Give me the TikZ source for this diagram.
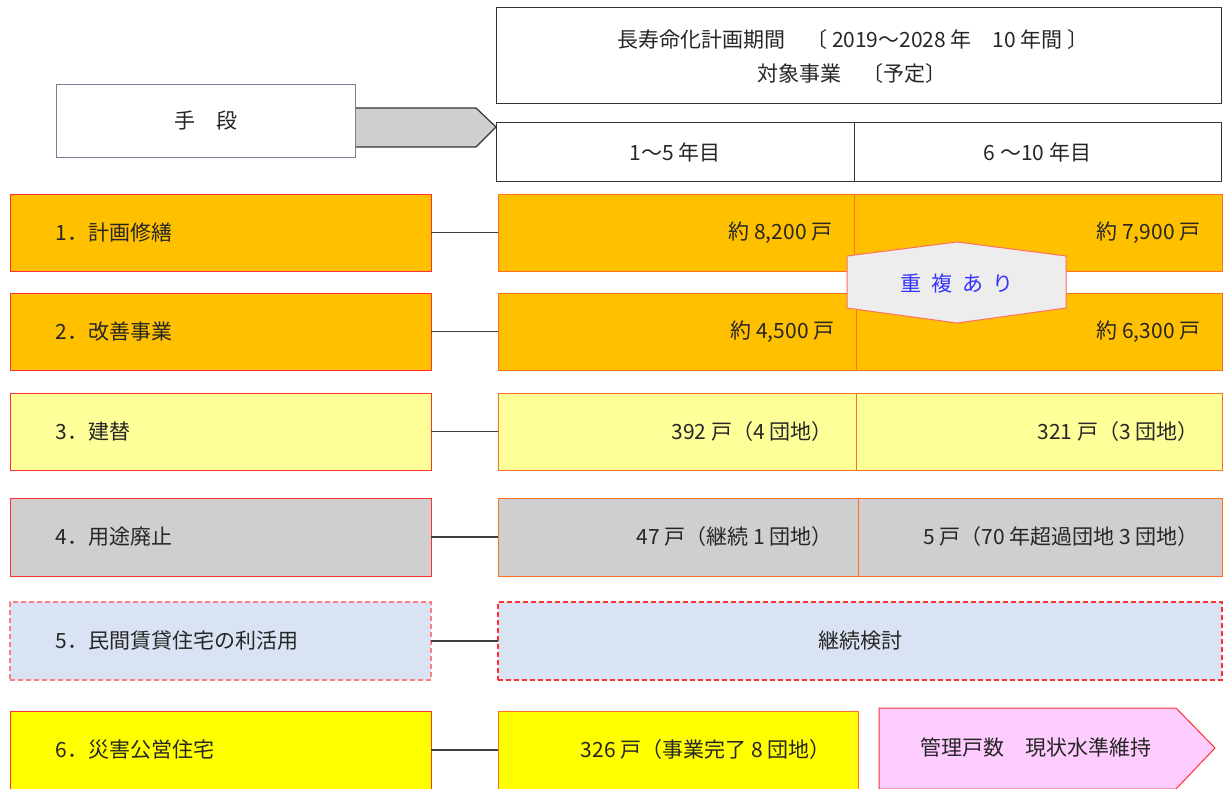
\documentclass[tikz,border=0pt]{standalone}
\usepackage{fontspec}
\setmainfont{Noto Sans CJK JP}
\definecolor{txt}{HTML}{262626}
\definecolor{gold}{HTML}{FFC000}
\definecolor{lyellow}{HTML}{FFFF99}
\definecolor{lgrey}{HTML}{D0CECE}
\definecolor{lblue}{HTML}{DAE3F3}
\definecolor{yel}{HTML}{FFFF00}
\definecolor{pinkf}{HTML}{FFCCFF}
\definecolor{redb}{HTML}{FF3030}
\definecolor{orb}{HTML}{FF7020}
\definecolor{pinkb}{HTML}{FF7C80}
\definecolor{slate}{HTML}{738096}
\definecolor{hexf}{HTML}{EDEDED}
\definecolor{hexb}{HTML}{FF6F61}
\definecolor{bluet}{HTML}{3333FF}
\newcommand{\hg}{\hspace{10pt}}
\begin{document}
\begin{tikzpicture}[x=1pt,y=-1pt,
  every node/.style={font=\fontsize{21}{25}\selectfont, text=txt},
  box/.style={draw, line width=1pt, inner sep=0pt, outer sep=0pt, anchor=north west},
  lbox/.style={box, draw=redb},
  rbox/.style={box, draw=orb},
  dbox/.style={box, line width=1.4pt, dash pattern=on 5pt off 3pt},
  conn/.style={draw=black!75, line width=1.5pt},
  ltext/.style={anchor=west},
  rtext/.style={anchor=east}]
\useasboundingbox (0,0) rectangle (1223,789);

% header
\node[box, draw=black!80, minimum width=725pt, minimum height=96pt] (top) at (496,8) {};
\node (t1) at (853,40) {長寿命化計画期間　〔 2019～2028 年　10 年間 〕};
\node (t2) at (852,74) {対象事業　〔予定〕};

\node[box, draw=black!80, minimum width=358pt, minimum height=58pt] (h1) at (496,123) {1～5 年目};
\node[box, draw=black!80, minimum width=367pt, minimum height=58pt] (h2) at (854,123) {6 ～10 年目};

% grey arrow
\coordinate (ga1) at (355,108);
\coordinate (ga2) at (476,108);
\coordinate (ga3) at (496,127);
\coordinate (ga4) at (476,147);
\coordinate (ga5) at (355,147);
\fill[lgrey] (ga1) -- (ga2) -- (ga3) -- (ga4) -- (ga5) -- cycle;
\draw[black!80, line width=1.2pt, line join=miter] (ga1) -- (ga2) -- (ga3) -- (ga4) -- (ga5);
\node[box, draw=slate, fill=white, minimum width=299pt, minimum height=72pt] (shudan) at (56,85) {手　段};

% row 1
\node[lbox, fill=gold, minimum width=421pt, minimum height=77pt] (l1) at (10,194) {};
\node[ltext] at ([xshift=42pt]l1.west) {1．計画修繕};
\node[rbox, fill=gold, minimum width=356pt, minimum height=77pt] (r1a) at (498,194) {};
\node[rbox, fill=gold, minimum width=368pt, minimum height=77pt] (r1b) at (854,194) {};
\node[rtext] at ([xshift=-18pt]r1a.east) {約 8,200 戸};
\node[rtext] at ([xshift=-18pt]r1b.east) {約 7,900 戸};
\draw[conn] (l1.east) -- (r1a.west);

% row 2
\node[lbox, fill=gold, minimum width=421pt, minimum height=77pt] (l2) at (10,293) {};
\node[ltext] at ([xshift=42pt]l2.west) {2．改善事業};
\node[rbox, fill=gold, minimum width=358pt, minimum height=77pt] (r2a) at (498,293) {};
\node[rbox, fill=gold, minimum width=366pt, minimum height=77pt] (r2b) at (856,293) {};
\node[rtext] at ([xshift=-18pt]r2a.east) {約 4,500 戸};
\node[rtext] at ([xshift=-18pt]r2b.east) {約 6,300 戸};
\draw[conn] (l2.east) -- (r2a.west);

% row 3
\node[lbox, fill=lyellow, minimum width=421pt, minimum height=77pt] (l3) at (10,393) {};
\node[ltext] at ([xshift=42pt]l3.west) {3．建替};
\node[rbox, fill=lyellow, minimum width=358pt, minimum height=77pt] (r3a) at (498,393) {};
\node[rbox, fill=lyellow, minimum width=366pt, minimum height=77pt] (r3b) at (856,393) {};
\node[rtext] at ([xshift=-20pt]r3a.east) {392 戸（4 団地）};
\node[rtext] at ([xshift=-20pt]r3b.east) {321 戸（3 団地）};
\draw[conn] (l3.east) -- (r3a.west);

% row 4
\node[lbox, fill=lgrey, minimum width=421pt, minimum height=78pt] (l4) at (10,498) {};
\node[ltext] at ([xshift=42pt]l4.west) {4．用途廃止};
\node[rbox, fill=lgrey, minimum width=360pt, minimum height=78pt] (r4a) at (498,498) {};
\node[rbox, fill=lgrey, minimum width=364pt, minimum height=78pt] (r4b) at (858,498) {};
\node[rtext] at ([xshift=-22pt]r4a.east) {47 戸（継続 1 団地）};
\node[rtext] at ([xshift=-20pt]r4b.east) {5 戸（70 年超過団地 3 団地）};
\draw[conn] (l4.east) -- (r4a.west);

% row 5
\node[dbox, draw=pinkb, fill=lblue, minimum width=421pt, minimum height=78pt] (l5) at (10,602) {};
\node[ltext] at ([xshift=42pt]l5.west) {5．民間賃貸住宅の利活用};
\node[dbox, draw=redb, fill=lblue, minimum width=724pt, minimum height=78pt] (r5) at (498,602) {継続検討};
\draw[conn] (l5.east) -- (r5.west);

% row 6
\node[lbox, fill=yel, minimum width=421pt, minimum height=78pt] (l6) at (10,711) {};
\node[ltext] at ([xshift=42pt]l6.west) {6．災害公営住宅};
\node[rbox, fill=yel, minimum width=360pt, minimum height=78pt] (r6) at (498,711) {};
\node[rtext] at ([xshift=-24pt]r6.east) {326 戸（事業完了 8 団地）};
\draw[conn] (l6.east) -- (r6.west);

% pink arrow
\coordinate (pa1) at (879,708);
\coordinate (pa2) at (1176,708);
\coordinate (pa3) at (1215,748);
\coordinate (pa4) at (1176,789);
\coordinate (pa5) at (879,789);
\filldraw[fill=pinkf, draw=redb, line width=1pt] (pa1) -- (pa2) -- (pa3) -- (pa4) -- (pa5) -- cycle;
\node (pat) at (1036,748) {管理戸数　現状水準維持};

% hexagon
\coordinate (hx1) at (847,256);
\coordinate (hx2) at (957,242);
\coordinate (hx3) at (1066,256);
\coordinate (hx4) at (1066,308);
\coordinate (hx5) at (957,323);
\coordinate (hx6) at (847,308);
\filldraw[fill=hexf, draw=hexb, line width=1pt] (hx1) -- (hx2) -- (hx3) -- (hx4) -- (hx5) -- (hx6) -- cycle;
\node[text=bluet] (hxt) at (957,284) {重\hg 複\hg あ\hg り};
\end{tikzpicture}
\end{document}
